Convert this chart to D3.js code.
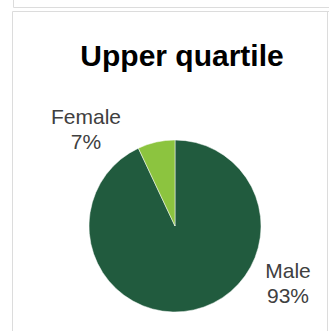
<!DOCTYPE html>
<html>
<head>
<meta charset="utf-8">
<script src="https://cdn.jsdelivr.net/npm/d3@7"></script>
<style>
  body { margin: 0; background: #fff; }
  svg { display: block; font-family: "Liberation Sans", Arial, sans-serif; }
</style>
</head>
<body>
<div id="chart"></div>
<script>
const categories = ["Male", "Female"];
const values = [93, 7];
const colours = ["#215b3e", "#8cc43f"];
const title = "Upper quartile";

const width = 329, height = 331;
const cx = 175, cy = 226, radius = 86;

const svg = d3.select("#chart").append("svg")
    .attr("width", width)
    .attr("height", height);

// panel borders (bottom of the panel above, and this panel)
const border = "#dcdcdc";
svg.append("line").attr("x1", 13.5).attr("x2", 13.5).attr("y1", 0).attr("y2", 7.5).attr("stroke", border);
svg.append("line").attr("x1", 13.5).attr("x2", width).attr("y1", 7.5).attr("y2", 7.5).attr("stroke", border);
svg.append("line").attr("x1", 12.5).attr("x2", width).attr("y1", 11.5).attr("y2", 11.5).attr("stroke", border);
svg.append("line").attr("x1", 12.5).attr("x2", 12.5).attr("y1", 11.5).attr("y2", height).attr("stroke", border);
svg.append("line").attr("x1", 327.5).attr("x2", 327.5).attr("y1", 11.5).attr("y2", height).attr("stroke", border);

svg.append("text")
    .attr("x", 182)
    .attr("y", 66)
    .attr("text-anchor", "middle")
    .style("font-weight", "bold")
    .style("font-size", "30px")
    .attr("fill", "#000")
    .text(title);

const data = categories.map((c, i) => ({ name: c, value: values[i], colour: colours[i] }));

const pie = d3.pie().sort(null).value(d => d.value);
const arc = d3.arc().innerRadius(0).outerRadius(radius);

const g = svg.append("g").attr("transform", "translate(" + cx + "," + cy + ")");

g.selectAll("path")
    .data(pie(data))
    .join("path")
    .attr("d", arc)
    .attr("fill", d => d.data.colour)
    .attr("stroke", "#fff")
    .attr("stroke-width", 0.5);

// labels outside the pie
const labelPos = { Male: [288, 278], Female: [86, 124] };
const fmt = d => d + "%";

data.forEach(d => {
    const p = labelPos[d.name];
    const t = svg.append("text")
        .attr("text-anchor", "middle")
        .style("font-size", "21px")
        .attr("fill", "#404040");
    t.append("tspan").attr("x", p[0]).attr("y", p[1]).text(d.name);
    t.append("tspan").attr("x", p[0]).attr("y", p[1] + 25).text(fmt(d.value));
});
</script>
</body>
</html>
